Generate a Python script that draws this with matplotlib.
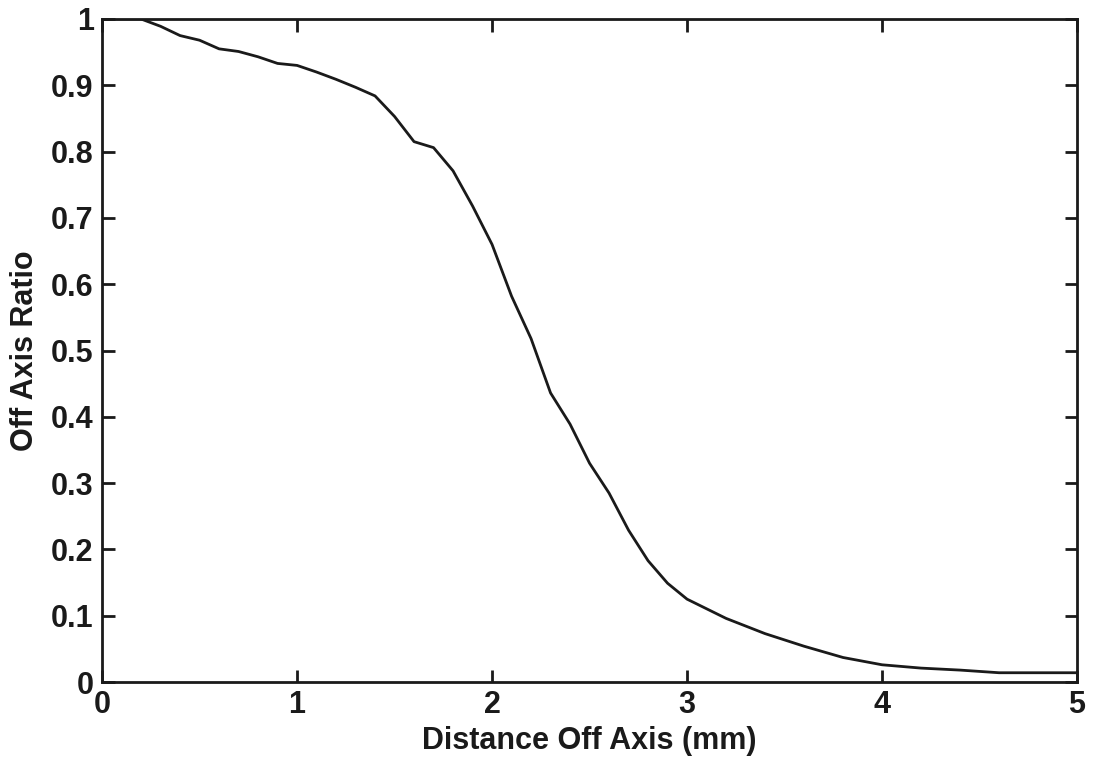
import matplotlib
matplotlib.use("Agg")
import matplotlib.pyplot as plt
from matplotlib import font_manager

distance_mm = [0.0, 0.1, 0.2, 0.3, 0.4, 0.5, 0.6, 0.7, 0.8, 0.9, 1.0, 1.1, 1.2, 1.3, 1.4,
               1.5, 1.6, 1.7, 1.8, 1.9, 2.0, 2.1, 2.2, 2.3, 2.4, 2.5, 2.6, 2.7, 2.8, 2.9,
               3.0, 3.2, 3.4, 3.6, 3.8, 4.0, 4.2, 4.4, 4.6, 4.8, 5.0]
off_axis_ratio = [1.0, 1.0, 1.0, 0.989, 0.975, 0.968, 0.955, 0.951, 0.943, 0.933, 0.930,
                  0.920, 0.909, 0.897, 0.884, 0.853, 0.815, 0.806, 0.771, 0.718, 0.660,
                  0.582, 0.518, 0.436, 0.389, 0.330, 0.285, 0.229, 0.183, 0.149, 0.125,
                  0.096, 0.073, 0.054, 0.037, 0.026, 0.021, 0.018, 0.014, 0.014, 0.014]
x_ticks = [0, 1, 2, 3, 4, 5]
y_ticks = [0, 0.1, 0.2, 0.3, 0.4, 0.5, 0.6, 0.7, 0.8, 0.9, 1.0]
y_tick_labels = ["0", "0.1", "0.2", "0.3", "0.4", "0.5", "0.6", "0.7", "0.8", "0.9", "1"]

names = {f.name for f in font_manager.fontManager.ttflist}
fam = "Liberation Sans Narrow" if "Liberation Sans Narrow" in names else "Liberation Sans"
plt.rcParams['font.family'] = [fam, 'DejaVu Sans']
plt.rcParams['font.weight'] = 'bold'

fig = plt.figure(figsize=(10.95, 7.6), dpi=100)
ax = fig.add_axes([0.0932, 0.1026, 0.8904, 0.8724])
ax.plot(distance_mm, off_axis_ratio, color='#1a1a1a', lw=2.0, clip_on=True)
ax.set_xlim(0, 5)
ax.set_ylim(0, 1)
ax.set_xticks(x_ticks)
ax.set_xticklabels([str(t) for t in x_ticks])
ax.set_yticks(y_ticks)
ax.set_yticklabels(y_tick_labels)
ax.tick_params(direction='in', length=9, width=2, top=True, right=True,
               labelsize=22, pad=6, colors='#1a1a1a')
for s in ax.spines.values():
    s.set_linewidth(2.0)
    s.set_color('#1a1a1a')
ax.set_xlabel("Distance Off Axis (mm)", fontsize=22, fontweight='bold', labelpad=4, color='#1a1a1a')
ax.set_ylabel("Off Axis Ratio", fontsize=22, fontweight='bold', labelpad=8, color='#1a1a1a')
fig.savefig("out.png", dpi=100)
